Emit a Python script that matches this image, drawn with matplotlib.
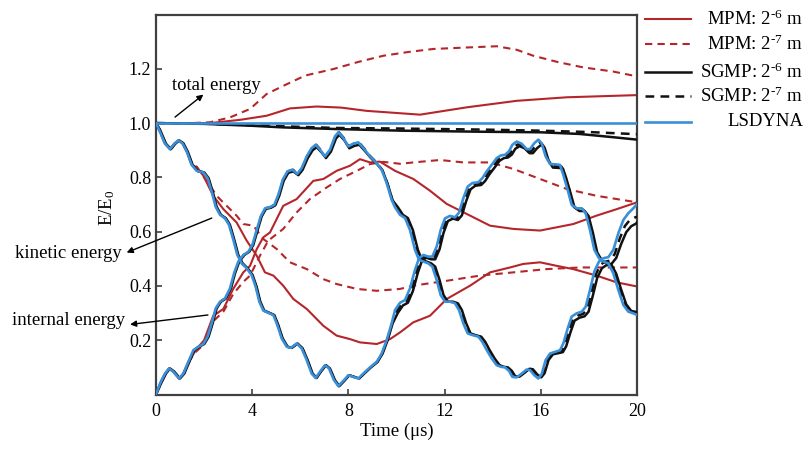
import matplotlib
matplotlib.use("Agg")
import matplotlib.pyplot as plt
from matplotlib.lines import Line2D

plt.rcParams['font.family'] = ['Liberation Serif', 'DejaVu Serif']
plt.rcParams['mathtext.fontset'] = 'custom'
plt.rcParams['mathtext.rm'] = 'Liberation Serif'
plt.rcParams['mathtext.it'] = 'Liberation Serif:italic'

# ---------------- data ----------------
# LSDYNA
lsd_ke_t = [0, 0.125, 0.374, 0.582, 0.762, 0.929, 1.095, 1.275, 1.483, 1.691, 1.968, 2.148, 2.315,
            2.481, 2.661, 2.869, 3.035, 3.216, 3.382, 3.562, 3.77, 3.978, 4.144, 4.297, 4.463, 4.671,
            4.879, 5.045, 5.225, 5.433, 5.613, 5.849, 6.057, 6.265, 6.473, 6.639, 6.819, 7.027, 7.193,
            7.401, 7.581, 7.789, 7.997, 8.205, 8.413, 8.62, 8.898, 9.175, 9.383, 9.591, 9.799,
            9.938, 10.146, 10.354, 10.561, 10.769, 10.936, 11.116, 11.324, 11.49, 11.67, 11.837,
            12.017, 12.225, 12.433, 12.599, 12.779, 12.96, 13.154, 13.403, 13.569, 13.75, 13.958,
            14.165, 14.346, 14.512, 14.678, 14.817, 14.997, 15.205, 15.413, 15.551, 15.731, 15.898,
            16.036, 16.203, 16.383, 16.591, 16.798, 16.937, 17.117, 17.283, 17.491, 17.699, 17.865,
            18.046, 18.226, 18.42, 18.6, 18.808, 19.016, 19.224, 19.432, 19.64, 19.848, 20.0]
lsd_ke = [1.0, 0.976, 0.924, 0.904, 0.924, 0.936, 0.926, 0.896, 0.846, 0.824, 0.818, 0.797, 0.748,
          0.692, 0.662, 0.649, 0.625, 0.57, 0.514, 0.483, 0.465, 0.44, 0.397, 0.342, 0.309, 0.301,
          0.293, 0.256, 0.207, 0.176, 0.172, 0.188, 0.17, 0.127, 0.077, 0.061, 0.084, 0.108, 0.096,
          0.053, 0.031, 0.05, 0.071, 0.065, 0.059, 0.077, 0.1, 0.12, 0.151, 0.2, 0.262,
          0.311, 0.338, 0.348, 0.391, 0.459, 0.502, 0.514, 0.508, 0.508, 0.545, 0.606,
          0.649, 0.658, 0.653, 0.67, 0.723, 0.766, 0.779, 0.782, 0.797, 0.822, 0.846,
          0.871, 0.881, 0.883, 0.896, 0.92, 0.932, 0.924, 0.904, 0.904, 0.926, 0.939,
          0.926, 0.877, 0.849, 0.848, 0.846, 0.809, 0.754, 0.699, 0.686, 0.686, 0.668,
          0.606, 0.533, 0.502, 0.49, 0.483, 0.446, 0.385, 0.33, 0.305, 0.299, 0.293]
lsd_ie_t = [0, 0.166, 0.374, 0.541, 0.721, 0.956, 1.137, 1.344, 1.552, 1.76, 1.968, 2.148, 2.315,
            2.481, 2.661, 2.869, 3.077, 3.244, 3.424, 3.632, 3.84, 4.006, 4.186, 4.353, 4.533, 4.741,
            4.921, 5.088, 5.268, 5.463, 5.671, 5.879, 6.057, 6.265, 6.473, 6.639, 6.847, 7.027,
            7.235, 7.443, 7.581, 7.789, 7.997, 8.205, 8.413, 8.62, 8.898, 9.175, 9.383, 9.591, 9.799,
            9.938, 10.146, 10.354, 10.561, 10.769, 10.936, 11.116, 11.324, 11.49, 11.67, 11.837,
            12.017, 12.225, 12.433, 12.599, 12.779, 12.96, 13.154, 13.403, 13.569, 13.75, 13.958,
            14.165, 14.346, 14.512, 14.678, 14.817, 14.997, 15.205, 15.413, 15.551, 15.731, 15.898,
            16.036, 16.203, 16.383, 16.591, 16.798, 16.937, 17.117, 17.283, 17.491, 17.699, 17.865,
            18.046, 18.226, 18.42, 18.6, 18.808, 19.016, 19.224, 19.432, 19.64, 19.848, 20.0]
lsd_ie = [0.0, 0.04, 0.077, 0.096, 0.084, 0.059, 0.077, 0.12, 0.163, 0.176, 0.186, 0.213, 0.262,
          0.317, 0.342, 0.354, 0.391, 0.446, 0.49, 0.514, 0.526, 0.551, 0.606, 0.656, 0.686, 0.69,
          0.699, 0.736, 0.791, 0.822, 0.828, 0.813, 0.834, 0.877, 0.908, 0.92, 0.899, 0.877,
          0.902, 0.951, 0.966, 0.945, 0.914, 0.924, 0.929, 0.908, 0.877, 0.852, 0.828, 0.779, 0.717,
          0.69, 0.662, 0.65, 0.606, 0.533, 0.496, 0.49, 0.483, 0.471, 0.422, 0.366,
          0.342, 0.342, 0.336, 0.311, 0.262, 0.225, 0.219, 0.213, 0.194, 0.164, 0.133,
          0.108, 0.102, 0.1, 0.087, 0.065, 0.063, 0.077, 0.092, 0.09, 0.071, 0.059,
          0.075, 0.127, 0.151, 0.157, 0.163, 0.188, 0.243, 0.287, 0.299, 0.305, 0.323,
          0.385, 0.453, 0.49, 0.502, 0.506, 0.533, 0.594, 0.643, 0.668, 0.686, 0.702]
lsd_tot_t = [0, 5, 10, 15, 20]
lsd_tot = [1.0, 1.0, 1.0, 1.0, 1.0]

# SGMP 2^-6
sg6_ke_t = [0, 0.165, 0.414, 0.622, 0.802, 0.969, 1.135, 1.315, 1.523, 1.731, 2.008, 2.188, 2.355,
            2.521, 2.701, 2.909, 3.075, 3.256, 3.422, 3.602, 3.81, 4.018, 4.184, 4.337, 4.503, 4.711,
            4.919, 5.085, 5.265, 5.473, 5.653, 5.889, 6.097, 6.305, 6.513, 6.679, 6.859, 7.067, 7.233,
            7.441, 7.621, 7.829, 8.037, 8.245, 8.453, 8.66, 8.938, 9.215, 9.423, 9.631, 9.839,
            10.058, 10.266, 10.474, 10.681, 10.889, 11.056, 11.236, 11.444, 11.61, 11.79, 11.957,
            12.137, 12.345, 12.553, 12.719, 12.899, 13.08, 13.274, 13.523, 13.689, 13.87, 14.078,
            14.285, 14.466, 14.632, 14.798, 14.937, 15.117, 15.325, 15.533, 15.671, 15.851, 16.018,
            16.156, 16.323, 16.503, 16.711, 16.918, 17.057, 17.237, 17.403, 17.611, 17.819, 17.985,
            18.166, 18.346, 18.54, 18.72, 18.928, 19.136, 19.344, 19.552, 19.76, 19.968, 20.0]
sg6_ke = [1.0, 0.976, 0.924, 0.904, 0.924, 0.936, 0.926, 0.896, 0.846, 0.824, 0.818, 0.797, 0.748,
          0.692, 0.662, 0.649, 0.625, 0.57, 0.514, 0.483, 0.465, 0.44, 0.397, 0.342, 0.309, 0.301,
          0.293, 0.256, 0.207, 0.176, 0.172, 0.188, 0.17, 0.127, 0.077, 0.061, 0.084, 0.108, 0.096,
          0.053, 0.031, 0.05, 0.071, 0.065, 0.059, 0.077, 0.1, 0.12, 0.151, 0.2, 0.262,
          0.301, 0.328, 0.338, 0.381, 0.449, 0.492, 0.504, 0.498, 0.498, 0.535, 0.596,
          0.639, 0.648, 0.643, 0.66, 0.713, 0.756, 0.769, 0.772, 0.787, 0.812, 0.836,
          0.861, 0.871, 0.873, 0.884, 0.905, 0.915, 0.907, 0.889, 0.889, 0.908, 0.92,
          0.91, 0.862, 0.836, 0.835, 0.833, 0.797, 0.742, 0.689, 0.676, 0.676, 0.658,
          0.596, 0.523, 0.494, 0.484, 0.48, 0.445, 0.386, 0.332, 0.308, 0.304, 0.30]
sg6_ie_t = [0, 0.206, 0.414, 0.581, 0.761, 0.996, 1.177, 1.384, 1.592, 1.8, 2.008, 2.188, 2.355,
            2.521, 2.701, 2.909, 3.117, 3.284, 3.464, 3.672, 3.88, 4.046, 4.226, 4.393, 4.573, 4.781,
            4.961, 5.128, 5.308, 5.503, 5.711, 5.919, 6.097, 6.305, 6.513, 6.679, 6.887, 7.067,
            7.275, 7.483, 7.621, 7.829, 8.037, 8.245, 8.453, 8.66, 8.938, 9.215, 9.423, 9.631, 9.839,
            10.058, 10.266, 10.474, 10.681, 10.889, 11.056, 11.236, 11.444, 11.61, 11.79, 11.957,
            12.137, 12.345, 12.553, 12.719, 12.899, 13.08, 13.274, 13.523, 13.689, 13.87, 14.078,
            14.285, 14.466, 14.632, 14.798, 14.937, 15.117, 15.325, 15.533, 15.671, 15.851, 16.018,
            16.156, 16.323, 16.503, 16.711, 16.918, 17.057, 17.237, 17.403, 17.611, 17.819, 17.985,
            18.166, 18.346, 18.54, 18.72, 18.928, 19.136, 19.344, 19.552, 19.76, 19.968, 20.0]
sg6_ie = [0.0, 0.04, 0.077, 0.096, 0.084, 0.059, 0.077, 0.12, 0.163, 0.176, 0.186, 0.213, 0.262,
          0.317, 0.342, 0.354, 0.391, 0.446, 0.49, 0.514, 0.526, 0.551, 0.606, 0.656, 0.684, 0.688,
          0.697, 0.733, 0.787, 0.817, 0.822, 0.808, 0.828, 0.87, 0.9, 0.911, 0.892, 0.871,
          0.895, 0.943, 0.957, 0.937, 0.907, 0.916, 0.92, 0.9, 0.871, 0.847, 0.824, 0.776, 0.715,
          0.69, 0.662, 0.65, 0.606, 0.533, 0.496, 0.49, 0.483, 0.471, 0.422, 0.366,
          0.342, 0.342, 0.336, 0.311, 0.262, 0.225, 0.219, 0.213, 0.194, 0.164, 0.133,
          0.108, 0.102, 0.1, 0.087, 0.067, 0.066, 0.08, 0.095, 0.093, 0.074, 0.063,
          0.078, 0.127, 0.148, 0.152, 0.156, 0.178, 0.23, 0.272, 0.283, 0.288, 0.305,
          0.365, 0.43, 0.465, 0.476, 0.48, 0.503, 0.555, 0.598, 0.62, 0.63, 0.634]
sg6_tot_t = [0, 2, 4, 5.3, 7.5, 10.2, 13.6, 16, 17.6, 19, 20]
sg6_tot = [1.0, 0.997, 0.99, 0.984, 0.978, 0.972, 0.968, 0.966, 0.96, 0.948, 0.939]

# SGMP 2^-7
sg7_ke_t = [0, 0.145, 0.394, 0.602, 0.782, 0.949, 1.115, 1.295, 1.503, 1.711, 1.988, 2.168, 2.335,
            2.501, 2.681, 2.889, 3.055, 3.236, 3.402, 3.582, 3.79, 3.998, 4.164, 4.317, 4.483, 4.691,
            4.899, 5.065, 5.245, 5.453, 5.633, 5.869, 6.077, 6.285, 6.493, 6.659, 6.839, 7.047, 7.213,
            7.421, 7.601, 7.809, 8.017, 8.225, 8.433, 8.64, 8.918, 9.195, 9.403, 9.611, 9.819,
            9.998, 10.206, 10.414, 10.621, 10.829, 10.996, 11.176, 11.384, 11.55, 11.73, 11.897,
            12.077, 12.285, 12.493, 12.659, 12.839, 13.02, 13.214, 13.463, 13.629, 13.81, 14.018,
            14.225, 14.406, 14.572, 14.738, 14.877, 15.057, 15.265, 15.473, 15.611, 15.791, 15.958,
            16.096, 16.263, 16.443, 16.651, 16.858, 16.997, 17.177, 17.343, 17.551, 17.759, 17.925,
            18.106, 18.286, 18.48, 18.66, 18.868, 19.076, 19.284, 19.492, 19.7, 19.908, 20.0]
sg7_ke = [1.0, 0.976, 0.924, 0.904, 0.924, 0.936, 0.926, 0.896, 0.846, 0.824, 0.818, 0.797, 0.748,
          0.692, 0.662, 0.649, 0.625, 0.57, 0.514, 0.483, 0.465, 0.44, 0.397, 0.342, 0.309, 0.301,
          0.293, 0.256, 0.207, 0.176, 0.172, 0.188, 0.17, 0.127, 0.077, 0.061, 0.084, 0.108, 0.096,
          0.053, 0.031, 0.05, 0.071, 0.065, 0.059, 0.077, 0.1, 0.12, 0.151, 0.2, 0.262,
          0.306, 0.333, 0.343, 0.386, 0.454, 0.497, 0.509, 0.503, 0.503, 0.54, 0.601,
          0.644, 0.653, 0.648, 0.665, 0.718, 0.761, 0.774, 0.777, 0.792, 0.817, 0.841,
          0.866, 0.876, 0.878, 0.89, 0.912, 0.922, 0.915, 0.896, 0.896, 0.917, 0.929,
          0.918, 0.87, 0.843, 0.842, 0.84, 0.803, 0.748, 0.694, 0.681, 0.681, 0.663,
          0.601, 0.528, 0.498, 0.487, 0.481, 0.445, 0.385, 0.331, 0.306, 0.3, 0.297]
sg7_ie_t = [0, 0.186, 0.394, 0.561, 0.741, 0.976, 1.157, 1.364, 1.572, 1.78, 1.988, 2.168, 2.335,
            2.501, 2.681, 2.889, 3.097, 3.264, 3.444, 3.652, 3.86, 4.026, 4.206, 4.373, 4.553, 4.761,
            4.941, 5.108, 5.288, 5.483, 5.691, 5.899, 6.077, 6.285, 6.493, 6.659, 6.867, 7.047,
            7.255, 7.463, 7.601, 7.809, 8.017, 8.225, 8.433, 8.64, 8.918, 9.195, 9.403, 9.611, 9.819,
            9.998, 10.206, 10.414, 10.621, 10.829, 10.996, 11.176, 11.384, 11.55, 11.73, 11.897,
            12.077, 12.285, 12.493, 12.659, 12.839, 13.02, 13.214, 13.463, 13.629, 13.81, 14.018,
            14.225, 14.406, 14.572, 14.738, 14.877, 15.057, 15.265, 15.473, 15.611, 15.791, 15.958,
            16.096, 16.263, 16.443, 16.651, 16.858, 16.997, 17.177, 17.343, 17.551, 17.759, 17.925,
            18.106, 18.286, 18.48, 18.66, 18.868, 19.076, 19.284, 19.492, 19.7, 19.908, 20.0]
sg7_ie = [0.0, 0.04, 0.077, 0.096, 0.084, 0.059, 0.077, 0.12, 0.163, 0.176, 0.186, 0.213, 0.262,
          0.317, 0.342, 0.354, 0.391, 0.446, 0.49, 0.514, 0.526, 0.551, 0.606, 0.656, 0.686, 0.69,
          0.699, 0.736, 0.791, 0.822, 0.828, 0.813, 0.834, 0.877, 0.908, 0.92, 0.899, 0.877,
          0.902, 0.951, 0.966, 0.945, 0.914, 0.924, 0.929, 0.908, 0.877, 0.852, 0.828, 0.779, 0.717,
          0.69, 0.662, 0.65, 0.606, 0.533, 0.496, 0.49, 0.483, 0.471, 0.422, 0.366,
          0.342, 0.342, 0.336, 0.311, 0.262, 0.225, 0.219, 0.213, 0.194, 0.164, 0.133,
          0.108, 0.102, 0.1, 0.087, 0.066, 0.064, 0.078, 0.093, 0.091, 0.072, 0.061,
          0.076, 0.127, 0.15, 0.155, 0.16, 0.183, 0.237, 0.28, 0.291, 0.297, 0.314,
          0.375, 0.442, 0.478, 0.489, 0.493, 0.518, 0.575, 0.62, 0.643, 0.652, 0.655]
sg7_tot_t = [0, 2, 5.3, 7.5, 10, 13.6, 16, 18, 20]
sg7_tot = [1.0, 0.998, 0.988, 0.982, 0.98, 0.976, 0.972, 0.967, 0.959]

# MPM 2^-6
mp6_ke_t = [0, 0.125, 0.374, 0.582, 0.762, 0.929, 1.095, 1.275, 1.483, 1.69, 1.97, 2.38, 2.8, 3.35,
            3.77, 4.19, 4.53, 4.88, 5.29, 5.71, 6.27, 6.96, 7.51, 8.07, 8.48, 9.18, 9.73, 10.15, 10.7,
            11.39, 12.09, 13.06, 13.89, 14.72, 15.27, 15.97, 16.66, 17.35, 18.32, 19.16, 20.0]
mp6_ke = [1.0, 0.976, 0.924, 0.904, 0.924, 0.936, 0.926, 0.896, 0.846, 0.837, 0.806, 0.732, 0.683,
          0.634, 0.567, 0.511, 0.45, 0.438, 0.401, 0.352, 0.315, 0.253, 0.217, 0.204, 0.192, 0.186,
          0.204, 0.229, 0.266, 0.29, 0.352, 0.401, 0.45, 0.468, 0.481, 0.487, 0.474, 0.462, 0.438,
          0.413, 0.398]
mp6_ie_t = [0, 0.166, 0.374, 0.541, 0.721, 0.956, 1.137, 1.344, 1.69, 2.0, 2.38, 2.8, 3.21, 3.63,
            3.91, 4.19, 4.46, 4.74, 5.29, 5.85, 6.54, 6.96, 7.51, 8.07, 8.48, 8.9, 9.31, 9.94, 10.7,
            11.39, 12.09, 13.06, 13.89, 14.86, 15.97, 16.66, 17.35, 18.32, 19.16, 20.0]
mp6_ie = [0.0, 0.04, 0.077, 0.096, 0.084, 0.059, 0.077, 0.12, 0.168, 0.2, 0.29, 0.315, 0.389, 0.45,
          0.474, 0.536, 0.579, 0.597, 0.695, 0.72, 0.787, 0.794, 0.824, 0.843, 0.867, 0.855, 0.858,
          0.824, 0.794, 0.751, 0.702, 0.659, 0.622, 0.61, 0.604, 0.616, 0.628, 0.659, 0.683, 0.708]
mp6_tot_t = [0, 2.25, 3.5, 4.6, 5.57, 6.68, 7.7, 8.76, 10.98, 12.92, 15.0, 17.08, 20.0]
mp6_tot = [1.0, 1.0, 1.012, 1.027, 1.054, 1.061, 1.057, 1.045, 1.031, 1.058, 1.082, 1.095, 1.103]

# MPM 2^-7
mp7_ke_t = [0, 0.125, 0.374, 0.582, 0.762, 0.929, 1.095, 1.275, 1.483, 1.69, 2.0, 2.25, 2.52, 2.94,
            3.35, 3.63, 4.05, 4.46, 5.02, 5.57, 6.27, 6.96, 7.51, 8.35, 9.18, 10.15, 10.7, 12.09,
            13.47, 14.86, 16.24, 17.63, 20.0]
mp7_ke = [1.0, 0.976, 0.924, 0.904, 0.924, 0.936, 0.926, 0.896, 0.846, 0.84, 0.8, 0.769, 0.732,
          0.695, 0.659, 0.628, 0.622, 0.573, 0.536, 0.487, 0.462, 0.425, 0.407, 0.389, 0.382, 0.389,
          0.401, 0.419, 0.438, 0.45, 0.462, 0.468, 0.468]
mp7_ie_t = [0, 0.166, 0.374, 0.541, 0.721, 0.956, 1.137, 1.344, 1.69, 2.0, 2.38, 2.8, 3.21, 3.63,
            3.91, 4.32, 4.67, 5.29, 5.85, 6.4, 7.1, 7.65, 8.35, 8.9, 9.45, 10.15, 10.7, 11.81, 12.78,
            13.89, 14.86, 15.97, 17.08, 18.32, 20.0]
mp7_ie = [0.0, 0.04, 0.077, 0.096, 0.084, 0.059, 0.077, 0.12, 0.16, 0.185, 0.27, 0.305, 0.37, 0.415,
          0.438, 0.511, 0.567, 0.61, 0.671, 0.72, 0.763, 0.794, 0.824, 0.849, 0.857, 0.85, 0.855,
          0.864, 0.855, 0.855, 0.831, 0.794, 0.757, 0.732, 0.708]
mp7_tot_t = [0, 1.5, 2.25, 3.08, 3.91, 4.6, 5.29, 6.2, 7.37, 8.4, 9.45, 10.5, 11.53, 12.8, 14.17,
             15.0, 15.69, 16.7, 17.77, 19.0, 20.0]
mp7_tot = [1.0, 1.0, 1.003, 1.021, 1.052, 1.107, 1.137, 1.175, 1.199, 1.225, 1.248, 1.262, 1.273,
           1.278, 1.283, 1.27, 1.248, 1.225, 1.205, 1.19, 1.172]

legend_labels = [r'MPM: $2^{\text{-6}}$ m', r'MPM: $2^{\text{-7}}$ m',
                 r'SGMP: $2^{\text{-6}}$ m', r'SGMP: $2^{\text{-7}}$ m', 'LSDYNA']
x_ticks = [0, 4, 8, 12, 16, 20]
y_ticks = [0.2, 0.4, 0.6, 0.8, 1.0, 1.2]

# ---------------- styles ----------------
RED = '#b5262b'
BLUE = '#3a8fd9'
BLACK = '#111111'
dash = (0, (3.5, 2.5))

fig = plt.figure(figsize=(8.1, 4.49), dpi=100)
ax = fig.add_axes([156 / 810, 1 - 394.5 / 449, 481 / 810, 380 / 449])

styles = [
    (RED, '-', 1.5, 2, [(mp6_ke_t, mp6_ke), (mp6_ie_t, mp6_ie), (mp6_tot_t, mp6_tot)]),
    (RED, dash, 1.5, 2, [(mp7_ke_t, mp7_ke), (mp7_ie_t, mp7_ie), (mp7_tot_t, mp7_tot)]),
    (BLACK, '-', 1.8, 3, [(sg6_ke_t, sg6_ke), (sg6_ie_t, sg6_ie), (sg6_tot_t, sg6_tot)]),
    (BLACK, dash, 1.8, 3, [(sg7_ke_t, sg7_ke), (sg7_ie_t, sg7_ie), (sg7_tot_t, sg7_tot)]),
    (BLUE, '-', 1.9, 4, [(lsd_ke_t, lsd_ke), (lsd_ie_t, lsd_ie), (lsd_tot_t, lsd_tot)]),
]
for color, ls, lw, z, series in styles:
    for t, v in series:
        ax.plot(t, v, color=color, linestyle=ls, linewidth=lw, zorder=z,
                solid_joinstyle='round', solid_capstyle='round')

ax.set_xlim(0, 20)
ax.set_ylim(0, 1.4)
ax.set_xticks(x_ticks)
ax.set_yticks(y_ticks)
ax.set_yticklabels([f'{v:.1f}' for v in y_ticks])
ax.tick_params(direction='in', length=4, width=1.2, colors='#404040', labelsize=13,
               labelcolor='black', top=False, right=False)
ax.tick_params(axis='x', pad=6)
for sp in ax.spines.values():
    sp.set_color('#404040')
    sp.set_linewidth(1.6)

ax.set_xlabel('Time (μs)', fontsize=13.5, labelpad=2)
ax.set_ylabel('E/E$_0$', fontsize=13.5)
ax.yaxis.set_label_coords(-0.081, 0.49)

# annotations
arrow = dict(arrowstyle='-|>', color='black', lw=1.0, mutation_scale=9, shrinkA=0, shrinkB=0)
ax.annotate('', xy=(1.97, 1.105), xytext=(0.79, 1.022), arrowprops=arrow, annotation_clip=False)
ax.text(0.65, 1.138, 'total energy', fontsize=13.5, ha='left', va='center')
ax.annotate('', xy=(-1.22, 0.523), xytext=(2.32, 0.65), arrowprops=arrow, annotation_clip=False)
ax.text(-1.41, 0.518, 'kinetic energy', fontsize=13.5, ha='right', va='center')
ax.annotate('', xy=(-1.08, 0.258), xytext=(2.16, 0.293), arrowprops=arrow, annotation_clip=False)
ax.text(-1.29, 0.274, 'internal energy', fontsize=13.5, ha='right', va='center')

# legend (drawn manually, right-aligned text)
leg_styles = [(RED, '-', 1.5), (RED, dash, 1.5), (BLACK, '-', 1.8), (BLACK, dash, 1.8), (BLUE, '-', 1.9)]
row_py = [19, 44, 72, 96, 122]
for (c, ls, lw), lab, py in zip(leg_styles, legend_labels, row_py):
    yf = 1 - py / 449
    fig.add_artist(Line2D([645 / 810, 691 / 810], [yf, yf], color=c, linestyle=ls, linewidth=lw))
    fig.text(803 / 810, yf, lab, fontsize=13.5, ha='right', va='center')

fig.savefig('out.png', dpi=100)
